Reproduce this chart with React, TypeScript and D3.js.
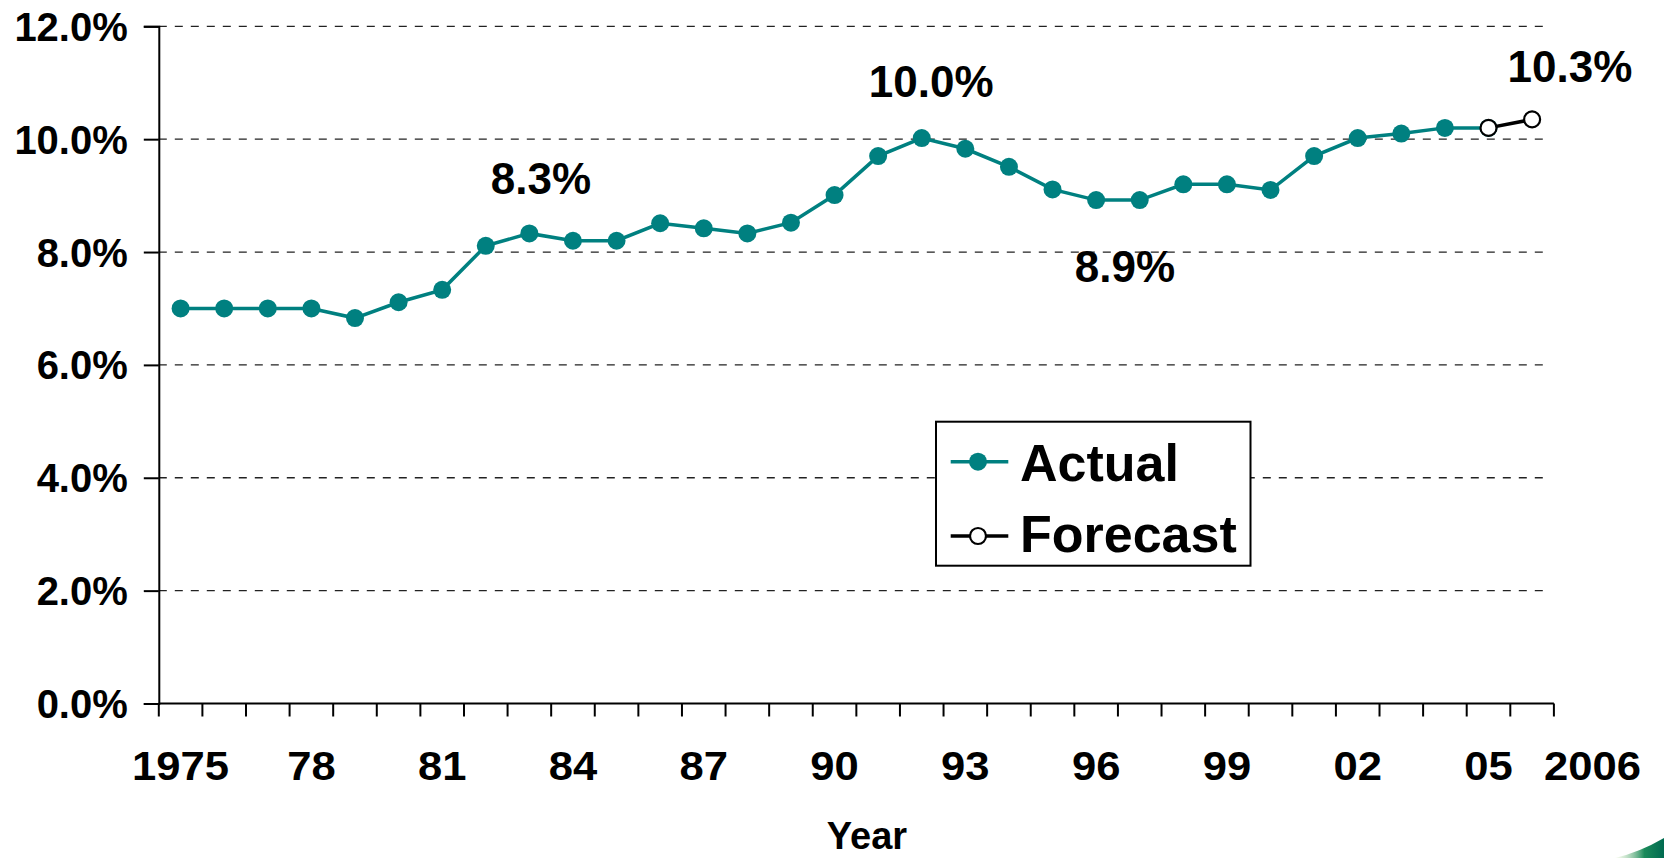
import React, { useEffect, useRef } from "react";
import * as d3 from "d3";

// ---- Data ----
const years: number[] = [
  1975, 1976, 1977, 1978, 1979, 1980, 1981, 1982, 1983, 1984, 1985, 1986, 1987, 1988, 1989, 1990,
  1991, 1992, 1993, 1994, 1995, 1996, 1997, 1998, 1999, 2000, 2001, 2002, 2003, 2004, 2005, 2006,
];
const actualYears: number[] = [
  1975, 1976, 1977, 1978, 1979, 1980, 1981, 1982, 1983, 1984, 1985, 1986, 1987, 1988, 1989, 1990,
  1991, 1992, 1993, 1994, 1995, 1996, 1997, 1998, 1999, 2000, 2001, 2002, 2003, 2004, 2005,
];
const actualValues: number[] = [
  7.0, 7.0, 7.0, 7.0, 6.83, 7.11, 7.33, 8.11, 8.33, 8.2, 8.2, 8.51, 8.42, 8.33, 8.52, 9.01,
  9.7, 10.02, 9.83, 9.51, 9.11, 8.92, 8.92, 9.2, 9.2, 9.1, 9.7, 10.02, 10.1, 10.2, 10.2,
];
const forecastYears: number[] = [2005, 2006];
const forecastValues: number[] = [10.2, 10.35];

const yTicks: number[] = [0, 2, 4, 6, 8, 10, 12];
const xTickLabelYears: number[] = [1975, 1978, 1981, 1984, 1987, 1990, 1993, 1996, 1999, 2002, 2005];
const xTickLabelTexts: string[] = ["1975", "78", "81", "84", "87", "90", "93", "96", "99", "02", "05"];
const lastYearLabel = "2006";

const annotationYears: number[] = [1983, 1992, 1996, 2006];
const annotationValues: number[] = [8.33, 10.02, 8.92, 10.35];
const annotationTexts: string[] = ["8.3%", "10.0%", "8.9%", "10.3%"];

const seriesNames: string[] = ["Actual", "Forecast"];
const xTitle = "Year";

// ---- Layout / style ----
const W = 1664;
const H = 858;
const X0 = 158.8;
const X1 = 1553.9;
const Y0 = 703.5;
const Y12 = 26.3;
const TEAL = "#008080";
const FONT = "'Liberation Sans', Arial, Helvetica, sans-serif";
const TICK_STRETCH = 1.09;
const annotationOffsets = [
  { dx: 11.6, dy: -39 },
  { dx: 9.5, dy: -41.5 },
  { dx: 28.8, dy: 81.7 },
  { dx: 37.8, dy: -37.7 },
];

export default function App() {
  const ref = useRef<SVGSVGElement | null>(null);

  useEffect(() => {
    const svg = d3.select(ref.current);
    svg.selectAll("*").remove();

    const x = d3
      .scaleBand<string>()
      .domain(years.map(String))
      .range([X0, X1])
      .padding(0);
    const bw = x.bandwidth();
    const cx = (yr: number) => (x(String(yr)) as number) + bw / 2;
    const y = d3.scaleLinear().domain([0, 12]).range([Y0, Y12]);

    // Gridlines
    svg
      .append("g")
      .selectAll("line")
      .data(yTicks.filter((t) => t > 0))
      .join("line")
      .attr("x1", X0)
      .attr("x2", X1 - 5)
      .attr("y1", (d) => y(d))
      .attr("y2", (d) => y(d))
      .attr("stroke", "#222")
      .attr("stroke-width", 1.3)
      .attr("stroke-dasharray", "8,8");

    // Y axis
    const yAxis = d3
      .axisLeft(y)
      .tickValues(yTicks)
      .tickSize(15)
      .tickPadding(16)
      .tickFormat((d) => (d as number).toFixed(1) + "%");
    const gy = svg.append("g").attr("transform", `translate(${X0},0)`).call(yAxis);
    gy.select(".domain").attr("stroke", "#000").attr("stroke-width", 2);
    gy.selectAll(".tick line").attr("stroke", "#000").attr("stroke-width", 2);
    gy.selectAll(".tick text")
      .attr("font-family", FONT)
      .attr("font-weight", "bold")
      .attr("font-size", 40)
      .attr("fill", "#000")
      .attr("dy", "0.35em");

    // X axis (category boundaries)
    const gx = svg.append("g");
    gx.append("line")
      .attr("x1", X0)
      .attr("x2", X1)
      .attr("y1", Y0)
      .attr("y2", Y0)
      .attr("stroke", "#000")
      .attr("stroke-width", 2);
    const boundaries = years.map((yr) => x(String(yr)) as number).concat([X1]);
    gx.selectAll("line.tk")
      .data(boundaries)
      .join("line")
      .attr("class", "tk")
      .attr("x1", (d) => d)
      .attr("x2", (d) => d)
      .attr("y1", Y0)
      .attr("y2", Y0 + 13)
      .attr("stroke", "#000")
      .attr("stroke-width", 2);
    gx.selectAll("text.lbl")
      .data(xTickLabelYears)
      .join("text")
      .attr("class", "lbl")
      .attr("transform", (d) => `translate(${cx(d)},780) scale(${TICK_STRETCH},1)`)
      .attr("text-anchor", "middle")
      .attr("font-family", FONT)
      .attr("font-weight", "bold")
      .attr("font-size", 40)
      .text((_, i) => xTickLabelTexts[i]);
    gx.append("text")
      .attr("transform", `translate(${cx(2006) + 12},780) scale(${TICK_STRETCH},1)`)
      .attr("text-anchor", "start")
      .attr("font-family", FONT)
      .attr("font-weight", "bold")
      .attr("font-size", 40)
      .text(lastYearLabel);

    // X title
    svg
      .append("text")
      .attr("x", 867)
      .attr("y", 849)
      .attr("text-anchor", "middle")
      .attr("font-family", FONT)
      .attr("font-weight", "bold")
      .attr("font-size", 38)
      .text(xTitle);

    // Actual series
    const line = d3
      .line<[number, number]>()
      .x((d) => cx(d[0]))
      .y((d) => y(d[1]));
    const actual: [number, number][] = actualYears.map((yr, i) => [yr, actualValues[i]]);
    const forecast: [number, number][] = forecastYears.map((yr, i) => [yr, forecastValues[i]]);

    svg
      .append("path")
      .attr("d", line(actual))
      .attr("fill", "none")
      .attr("stroke", TEAL)
      .attr("stroke-width", 3.5);
    svg
      .append("g")
      .selectAll("circle")
      .data(actual)
      .join("circle")
      .attr("cx", (d) => cx(d[0]))
      .attr("cy", (d) => y(d[1]))
      .attr("r", 9)
      .attr("fill", TEAL);

    // Forecast series
    svg
      .append("path")
      .attr("d", line(forecast))
      .attr("fill", "none")
      .attr("stroke", "#000")
      .attr("stroke-width", 3.5);
    svg
      .append("g")
      .selectAll("circle")
      .data(forecast)
      .join("circle")
      .attr("cx", (d) => cx(d[0]))
      .attr("cy", (d) => y(d[1]))
      .attr("r", 8)
      .attr("fill", "#fff")
      .attr("stroke", "#000")
      .attr("stroke-width", 2.2);

    // Annotations
    svg
      .append("g")
      .selectAll("text")
      .data(annotationYears)
      .join("text")
      .attr("x", (d, i) => cx(d) + annotationOffsets[i].dx)
      .attr("y", (d, i) => y(annotationValues[i]) + annotationOffsets[i].dy)
      .attr("text-anchor", "middle")
      .attr("font-family", FONT)
      .attr("font-weight", "bold")
      .attr("font-size", 44)
      .text((_, i) => annotationTexts[i]);

    // Legend
    const lg = svg.append("g");
    lg.append("rect")
      .attr("x", 936)
      .attr("y", 421.7)
      .attr("width", 314.5)
      .attr("height", 144)
      .attr("fill", "#fff")
      .attr("stroke", "#000")
      .attr("stroke-width", 2);
    const rows = [
      { y: 461.7, color: TEAL, fill: TEAL, r: 9, stroke: "none", ty: 481 },
      { y: 536, color: "#000", fill: "#fff", r: 8, stroke: "#000", ty: 551.7 },
    ];
    rows.forEach((row, i) => {
      lg.append("line")
        .attr("x1", 950.7)
        .attr("x2", 1008.3)
        .attr("y1", row.y)
        .attr("y2", row.y)
        .attr("stroke", row.color)
        .attr("stroke-width", 3.5);
      lg.append("circle")
        .attr("cx", 978)
        .attr("cy", row.y)
        .attr("r", row.r)
        .attr("fill", row.fill)
        .attr("stroke", row.stroke)
        .attr("stroke-width", 2.2);
      lg.append("text")
        .attr("x", 1020)
        .attr("y", row.ty)
        .attr("font-family", FONT)
        .attr("font-weight", "bold")
        .attr("font-size", 52)
        .text(seriesNames[i]);
    });

    // Corner decoration
    const defs = svg.append("defs");
    const grad = defs
      .append("linearGradient")
      .attr("id", "cornerGrad")
      .attr("x1", "0")
      .attr("x2", "1")
      .attr("y1", "0")
      .attr("y2", "0");
    grad.append("stop").attr("offset", "0").attr("stop-color", "#e8f5d0").attr("stop-opacity", 0.3);
    grad.append("stop").attr("offset", "0.6").attr("stop-color", "#1a8a5a");
    grad.append("stop").attr("offset", "1").attr("stop-color", "#006a50");
    svg
      .append("path")
      .attr("d", "M1615,858 Q1640,852 1664,838 L1664,858 Z")
      .attr("fill", "url(#cornerGrad)");
  }, []);

  return (
    <svg
      ref={ref}
      width={W}
      height={H}
      style={{ position: "absolute", left: 0, top: 0, background: "#fff" }}
    />
  );
}
